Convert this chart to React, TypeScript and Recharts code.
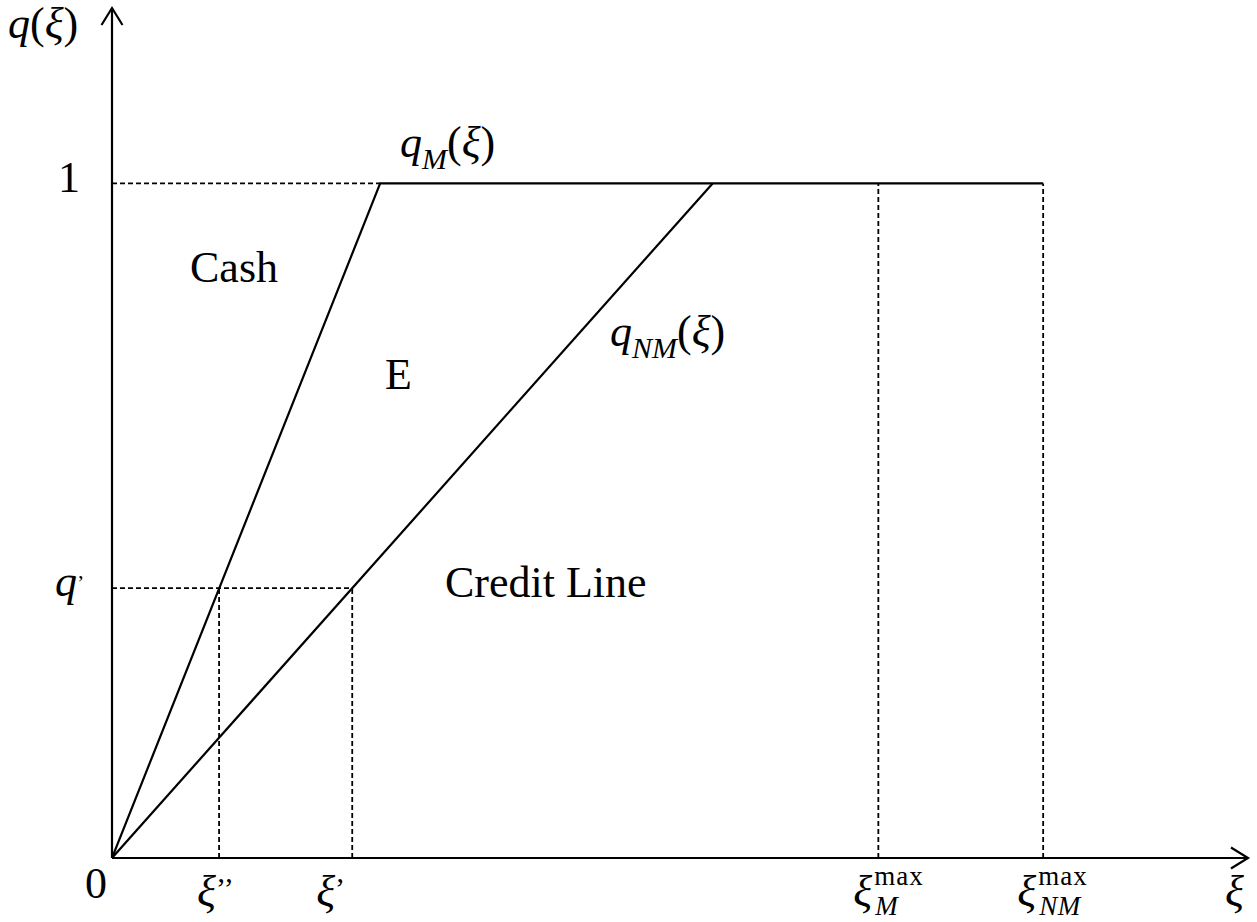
import React from 'react';
import { ComposedChart, Line, XAxis, YAxis, ReferenceLine, ReferenceDot } from 'recharts';

// ---- data ----
const Q_M_XI = [0, 2.88, 10];
const Q_M_Q = [0, 1, 1];
const Q_NM_XI = [0, 6.45];
const Q_NM_Q = [0, 1];

const Q_PRIME = 0.4;
const Q_ONE = 1;
const XI_DOUBLE_PRIME = 1.15;
const XI_PRIME = 2.58;
const XI_M_MAX = 8.23;
const XI_NM_MAX = 10;
const XI_AXIS_END = 12.2;
const Q_AXIS_END = 1.26;

const X_TICKS = [0, XI_DOUBLE_PRIME, XI_PRIME, XI_M_MAX, XI_NM_MAX, XI_AXIS_END];
const X_TICK_LABELS = [
  { base: '0', upright: true },
  { base: 'ξ', prime: '’’' },
  { base: 'ξ', prime: '’' },
  { base: 'ξ', sup: 'max', sub: 'M' },
  { base: 'ξ', sup: 'max', sub: 'NM' },
  { base: 'ξ' },
];

const Y_TICKS = [Q_PRIME, Q_ONE, Q_AXIS_END];
const Y_TICK_LABELS = [
  { base: 'q', prime: '’', smallPrime: true },
  { base: '1', upright: true },
  { base: 'q', arg: 'ξ' },
];

const ANNOTATION_XI = [0.838, 2.932, 3.576, 3.093, 5.348];
const ANNOTATION_Q = [0.854, 0.695, 0.387, 1.039, 0.759];
const ANNOTATION_LABELS = [
  { base: 'Cash', upright: true },
  { base: 'E', upright: true },
  { base: 'Credit Line', upright: true },
  { base: 'q', sub: 'M', arg: 'ξ' },
  { base: 'q', sub: 'NM', arg: 'ξ' },
];

const qMData = Q_M_XI.map((xi, i) => ({ xi, q: Q_M_Q[i] }));
const qNMData = Q_NM_XI.map((xi, i) => ({ xi, q: Q_NM_Q[i] }));

// ---- layout / style ----
const FONT = '"Liberation Serif", "Times New Roman", "DejaVu Serif", serif';
const BIG = 44;
const SMALL = 30;
const STACK = 27;
const X_TICK_OFFSETS = [
  { dx: -27, dy: 40 },
  { dx: -22, dy: 48 },
  { dx: -36, dy: 48 },
  { dx: -25, dy: 48 },
  { dx: -26, dy: 48 },
  { dx: -23, dy: 48 },
];
const Y_TICK_OFFSETS = [
  { dx: -57, dy: 8 },
  { dx: -54, dy: 9 },
  { dx: -104, dy: 30 },
];

type Spec = {
  base: string;
  upright?: boolean;
  prime?: string;
  smallPrime?: boolean;
  sup?: string;
  sub?: string;
  arg?: string;
};

function MathLabel({ x, y, spec }: { x: number; y: number; spec: Spec }) {
  if (spec.sup) {
    return (
      <g fontFamily={FONT} fill="#000">
        <text x={x} y={y} fontSize={BIG} fontStyle="italic">{spec.base}</text>
        <text x={x + 21} y={y - 21} fontSize={STACK} letterSpacing={1}>{spec.sup}</text>
        <text x={x + 22} y={y + 9} fontSize={STACK} fontStyle="italic" letterSpacing={0.5}>{spec.sub}</text>
      </g>
    );
  }
  return (
    <text x={x} y={y} fontFamily={FONT} fontSize={BIG} fill="#000">
      <tspan fontStyle={spec.upright ? 'normal' : 'italic'}>{spec.base}</tspan>
      {spec.prime ? (
        <tspan fontSize={spec.smallPrime ? 22 : SMALL} dy={spec.smallPrime ? -6 : -8}>
          {spec.prime}
        </tspan>
      ) : null}
      {spec.sub ? (
        <tspan fontSize={SMALL} fontStyle="italic" dy={12}>
          {spec.sub}
        </tspan>
      ) : null}
      {spec.arg ? (
        <>
          <tspan dy={spec.sub ? -12 : 0}>(</tspan>
          <tspan fontStyle="italic">{spec.arg}</tspan>
          <tspan>)</tspan>
        </>
      ) : null}
    </text>
  );
}

function XTick(props: any) {
  const { x, y, index } = props;
  const spec = X_TICK_LABELS[index];
  const off = X_TICK_OFFSETS[index];
  if (!spec) return null;
  return <MathLabel x={x + off.dx} y={y + off.dy} spec={spec} />;
}

function YTick(props: any) {
  const { x, y, index } = props;
  const spec = Y_TICK_LABELS[index];
  const off = Y_TICK_OFFSETS[index];
  if (!spec) return null;
  return <MathLabel x={x + off.dx} y={y + off.dy} spec={spec} />;
}

function ArrowLine(props: any) {
  const { x1, y1, x2, y2 } = props;
  const len = Math.hypot(x2 - x1, y2 - y1) || 1;
  const ux = (x2 - x1) / len;
  const uy = (y2 - y1) / len;
  const nx = -uy;
  const ny = ux;
  const back = 17;
  const half = 10.5;
  const ax = x2 - back * ux;
  const ay = y2 - back * uy;
  return (
    <g>
      <line x1={x1} y1={y1} x2={x2} y2={y2} stroke="#000" strokeWidth={2.2} />
      <polyline
        points={`${ax + half * nx},${ay + half * ny} ${x2},${y2} ${ax - half * nx},${ay - half * ny}`}
        fill="none"
        stroke="#000"
        strokeWidth={2.2}
      />
    </g>
  );
}

const dashed = { stroke: '#000', strokeWidth: 1.8, strokeDasharray: '5 3' };

export default function App() {
  return (
    <div>
      <style>{`html,body{margin:0;padding:0;overflow:hidden;background:#fff}`}</style>
      <ComposedChart
        width={1257}
        height={922}
        margin={{ top: 8, right: 9, bottom: 34, left: 52 }}
      >
        <XAxis
          dataKey="xi"
          type="number"
          domain={[0, XI_AXIS_END]}
          ticks={X_TICKS}
          interval={0}
          axisLine={false}
          tickLine={false}
          tickSize={0}
          tickMargin={0}
          tick={<XTick />}
          allowDataOverflow
        />
        <YAxis
          dataKey="q"
          type="number"
          domain={[0, Q_AXIS_END]}
          ticks={Y_TICKS}
          interval={0}
          axisLine={false}
          tickLine={false}
          tickSize={0}
          tickMargin={0}
          tick={<YTick />}
          allowDataOverflow
        />

        {/* dashed guides */}
        <ReferenceLine segment={[{ x: 0, y: Q_ONE }, { x: Q_M_XI[1], y: Q_ONE }]} {...dashed} />
        <ReferenceLine segment={[{ x: 0, y: Q_PRIME }, { x: XI_PRIME, y: Q_PRIME }]} {...dashed} />
        <ReferenceLine segment={[{ x: XI_DOUBLE_PRIME, y: 0 }, { x: XI_DOUBLE_PRIME, y: Q_PRIME }]} {...dashed} />
        <ReferenceLine segment={[{ x: XI_PRIME, y: 0 }, { x: XI_PRIME, y: Q_PRIME }]} {...dashed} />
        <ReferenceLine segment={[{ x: XI_M_MAX, y: 0 }, { x: XI_M_MAX, y: Q_ONE }]} {...dashed} />
        <ReferenceLine segment={[{ x: XI_NM_MAX, y: 0 }, { x: XI_NM_MAX, y: Q_ONE }]} {...dashed} />

        {/* axes with arrows */}
        <ReferenceLine segment={[{ x: 0, y: 0 }, { x: XI_AXIS_END, y: 0 }]} shape={ArrowLine} />
        <ReferenceLine segment={[{ x: 0, y: 0 }, { x: 0, y: Q_AXIS_END }]} shape={ArrowLine} />

        <Line
          data={qMData}
          dataKey="q"
          stroke="#000"
          strokeWidth={2.2}
          dot={false}
          activeDot={false}
          isAnimationActive={false}
        />
        <Line
          data={qNMData}
          dataKey="q"
          stroke="#000"
          strokeWidth={2.2}
          dot={false}
          activeDot={false}
          isAnimationActive={false}
        />

        {ANNOTATION_LABELS.map((spec, i) => (
          <ReferenceDot
            key={i}
            x={ANNOTATION_XI[i]}
            y={ANNOTATION_Q[i]}
            r={1}
            shape={(p: any) => <MathLabel x={p.cx} y={p.cy} spec={spec} />}
          />
        ))}
      </ComposedChart>
    </div>
  );
}
